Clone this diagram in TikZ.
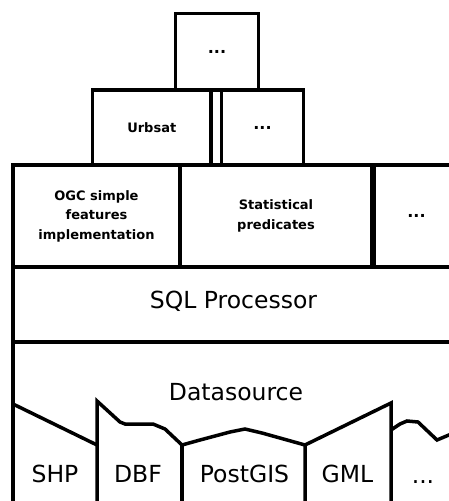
\documentclass[tikz,border=0pt]{standalone}
\usepackage{fontspec}
\setmainfont{DejaVu Sans}
\newcommand{\smalllbl}{\fontsize{13}{19.5}\selectfont\bfseries}
\newcommand{\dotslbl}{\fontsize{16}{19.5}\selectfont\bfseries}
\newcommand{\biglbl}{\fontsize{23.5}{28}\selectfont}
\begin{document}
\begin{tikzpicture}[x=1pt,y=-1pt,line width=3.5pt,
  blk/.style={draw=black,line width=3.5pt,inner sep=0pt,outer sep=0pt,align=center,font=\smalllbl},
  dotsblk/.style={blk,font=\dotslbl},
  lbl/.style={inner sep=0pt,font=\biglbl},
  src/.style={line width=3.5pt,line join=miter}]
\useasboundingbox (0,0) rectangle (449,501);
\clip (0,0) rectangle (449,501);
% top tiers
\node[dotsblk,minimum width=83pt,minimum height=76.5pt] (top) at (217,51.75) {...};
\node[blk,minimum width=118.5pt,minimum height=75pt] (urbsat) at (151.75,127.5) {Urbsat};
\node[dotsblk,minimum width=82pt,minimum height=75pt] (dotsb) at (262.5,127.5) {...};
% third row
\node[blk,minimum width=167pt,minimum height=102pt] (ogc) at (96.5,216) {OGC simple\\features\\implementation};
\node[blk,minimum width=192pt,minimum height=102pt] (stat) at (276,216) {Statistical\\predicates};
\node[dotsblk,minimum width=84pt,minimum height=102pt] (dotsc) at (416.5,216) {...};
% SQL processor
\node[blk,minimum width=440pt,minimum height=75pt] (sql) at (233,304.5) {};
\node[lbl] (sqltxt) at (233.5,301) {SQL Processor};
% Datasource region
\node[draw=black,line width=3.5pt,inner sep=0pt,minimum width=440pt,minimum height=190pt] (ds) at (233,437) {};
\node[lbl] (dstxt) at (236,392) {Datasource};
% data source tabs
\draw[src] (13,404) -- (97,445);
\draw[src] (97,520) -- (97,401) -- (120,422) -- (125,424) -- (153,424) -- (165,429) -- (182,445);
\draw[line width=4.5pt] (182,444) -- (182,520);
\draw[src] (182,445) -- (200,440) -- (230,432) -- (245,429) -- (262,433) -- (305,445);
\draw[src] (305,520) -- (305,445) -- (391,403) -- (391,520);
\draw[src] (391,430) -- (400,424) -- (407,421) -- (418,422) -- (437,440) -- (456,432);
\node[lbl] (shp) at (55,474) {SHP};
\node[lbl] (dbf) at (138,474) {DBF};
\node[lbl] (pg) at (244.5,474) {PostGIS};
\node[lbl] (gml) at (347.5,474) {GML};
\node[lbl,anchor=base] (dotsd) at (423,483) {...};
\end{tikzpicture}
\end{document}
